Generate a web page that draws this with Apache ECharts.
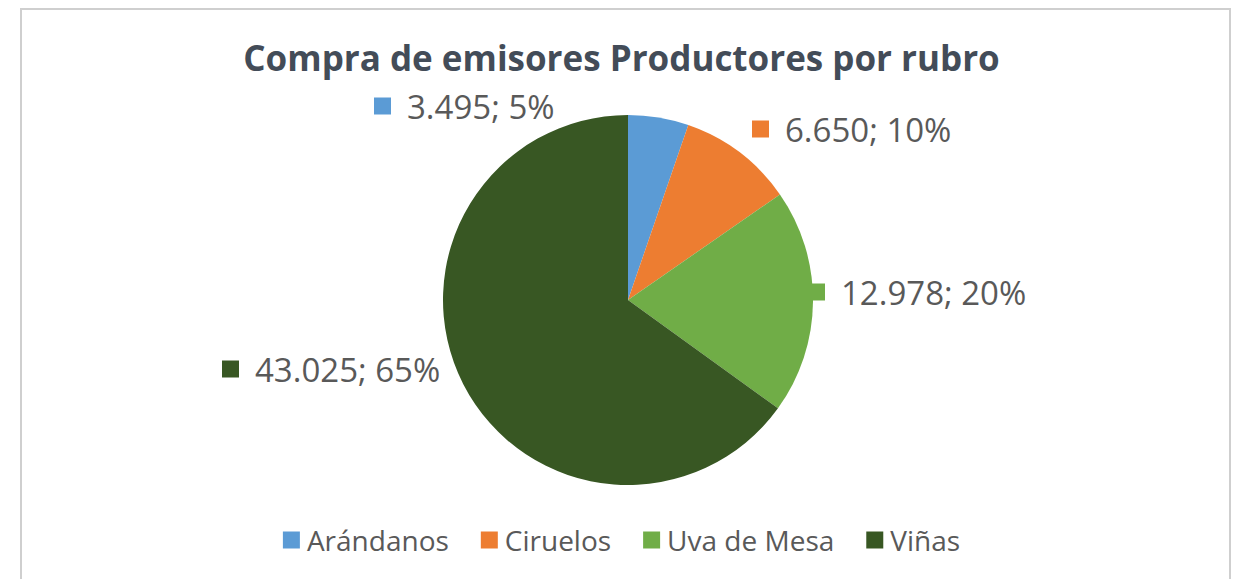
<!DOCTYPE html>
<html>
<head>
<meta charset="utf-8">
<script src="https://cdn.jsdelivr.net/npm/echarts@6/dist/echarts.min.js"></script>
<style>
  html, body { margin: 0; padding: 0; background: #fff; }
  #frame { position: absolute; left: 20px; top: 8px; width: 1207px; height: 620px; border: 2px solid #cfcfcf; }
  #chart { position: absolute; left: 0; top: 0; width: 1243px; height: 579px; }
</style>
</head>
<body>
<div id="frame"></div>
<div id="chart"></div>
<script>
// Compra de emisores Productores por rubro
var categories = ['Arándanos', 'Ciruelos', 'Uva de Mesa', 'Viñas'];
var values = [3495, 6650, 12978, 43025];
var colors = ['#5b9bd5', '#ed7d31', '#70ad47', '#385723'];

// label anchor spots (left edge of key square, vertical middle) — layout only
var labelSpots = [[374, 106], [752, 129], [808, 292], [222, 369]];

function fmtNum(v) {
  return String(v).replace(/\B(?=(\d{3})+(?!\d))/g, '.');
}

var rich = {};
colors.forEach(function (c, i) {
  rich['k' + i] = { width: 17, height: 17, backgroundColor: c };
});
rich.t = { color: '#595959', fontSize: 33, fontFamily: 'Open Sans', padding: [0, 0, 0, 16] };

var chart = echarts.init(document.getElementById('chart'), null, { renderer: 'svg' });
chart.setOption({
  animation: false,
  color: colors,
  title: {
    text: 'Compra de emisores Productores por rubro',
    left: 'center',
    top: 35,
    textStyle: { color: '#434c58', fontSize: 35, fontWeight: 'bold', fontFamily: 'Open Sans' }
  },
  legend: {
    bottom: 20,
    left: 'center',
    icon: 'rect',
    itemWidth: 17,
    itemHeight: 17,
    itemGap: 32,
    textStyle: { color: '#595959', fontSize: 28, fontFamily: 'Open Sans', padding: [0, 0, 0, 2] },
    data: categories
  },
  series: [{
    type: 'pie',
    radius: 185,
    center: [628, 300],
    startAngle: 90,
    clockwise: true,
    label: {
      show: true,
      position: 'outside',
      formatter: function (p) {
        return '{k' + p.dataIndex + '|}{t|' + fmtNum(p.value) + '; ' + Math.round(p.percent) + '%}';
      },
      rich: rich
    },
    labelLine: { show: false },
    labelLayout: function (p) {
      var s = labelSpots[p.dataIndex];
      return { x: s[0], y: s[1], align: 'left', verticalAlign: 'middle' };
    },
    data: categories.map(function (name, i) {
      return { name: name, value: values[i] };
    })
  }]
});
window.addEventListener('resize', function () { chart.resize(); });
</script>
</body>
</html>
